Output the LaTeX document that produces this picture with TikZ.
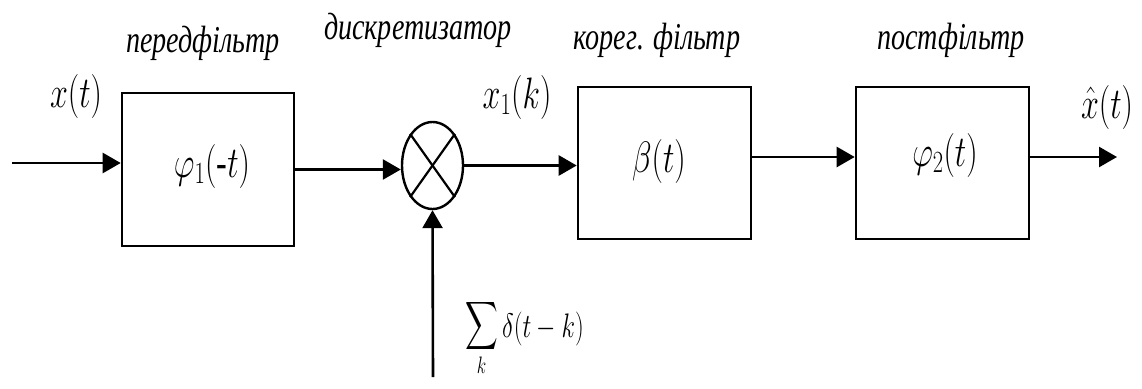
\RequirePackage{fix-cm}
\documentclass[tikz,border=0pt]{standalone}
\usepackage{amsmath}
\usepackage{fontspec}
\setmainfont{Liberation Serif}
\usetikzlibrary{arrows.meta,shapes.geometric}
\newcommand{\sq}[1]{\scalebox{0.74}[1]{#1}}
\newcommand{\sqm}[1]{\scalebox{0.73}[1]{#1}}
\tikzset{
  blk/.style={draw, line width=2.6pt, minimum width=172pt, minimum height=152pt, inner sep=0pt},
  arr/.style={line width=2.6pt, -{Triangle[length=18pt,width=20pt]}},
  ln/.style={line width=2.2pt},
  ttl/.style={font=\fontsize{38}{42}\selectfont\itshape, inner sep=0pt},
  mth/.style={font=\fontsize{44}{48}\selectfont, inner sep=0pt},
}
\begin{document}
\begin{tikzpicture}[x=1pt,y=-1pt]
\useasboundingbox (0,0) rectangle (1142,388);
% blocks
\node[blk, minimum height=153pt] (b1) at (208,169.5) {};
\node[blk, minimum width=173pt] (b2) at (664.5,163) {};
\node[blk, minimum width=173pt] (b3) at (942.5,163) {};
\node[draw, ellipse, line width=2.4pt, minimum width=61pt, minimum height=87pt, inner sep=0pt] (c) at (432.5,165.5) {};
\draw[ln] (c.north east) -- (c.south west);
\draw[ln] (c.north west) -- (c.south east);
% connectors
\coordinate (in) at (12,163);
\coordinate (out) at (1117,157);
\coordinate (bot) at (433,377);
\draw[arr] (in) -- (in -| b1.west);
\draw[arr] (b1.east) -- (c.west |- b1.east);
\draw[arr] (c.east) -- (c.east -| b2.west);
\draw[arr] ([yshift=6pt]b2.east) -- ([yshift=6pt]b3.west);
\draw[arr] ([yshift=6pt]b3.east) -- (out);
\draw[arr] (bot) -- (c.south);
% titles
\node[ttl] (t1) at (203,43) {\sq{передфільтр}};
\node[ttl] (t2) at (418,30) {\sq{дискретизатор}};
\node[ttl] (t3) at (657,40) {\sq{корег. фільтр}};
\node[ttl] (t4) at (951,40) {\sq{постфільтр}};
% math labels
\node[mth] (lx) at (76,96) {\sqm{$x(t)$}};
\node[mth] (lp1) at (212,166) {\sqm{$\varphi_1(\textrm{-}t)$}};
\node[mth] (lx1) at (517,97) {\sqm{$x_1(k)$}};
\node[mth] (lb) at (659,161) {\sqm{$\beta(t)$}};
\node[mth] (lp2) at (945,155) {\sqm{$\varphi_2(t)$}};
\node[mth] (lxh) at (1107,107) {\sqm{$\hat{x}(t)$}};
\node[mth, font=\fontsize{34}{38}\selectfont, anchor=base west] (ls) at (465,337) {\sqm{$\displaystyle\mathop{\scalebox{1.25}[1.35]{$\displaystyle\sum$}}\limits_k \delta(t-k)$}};
\end{tikzpicture}
\end{document}
